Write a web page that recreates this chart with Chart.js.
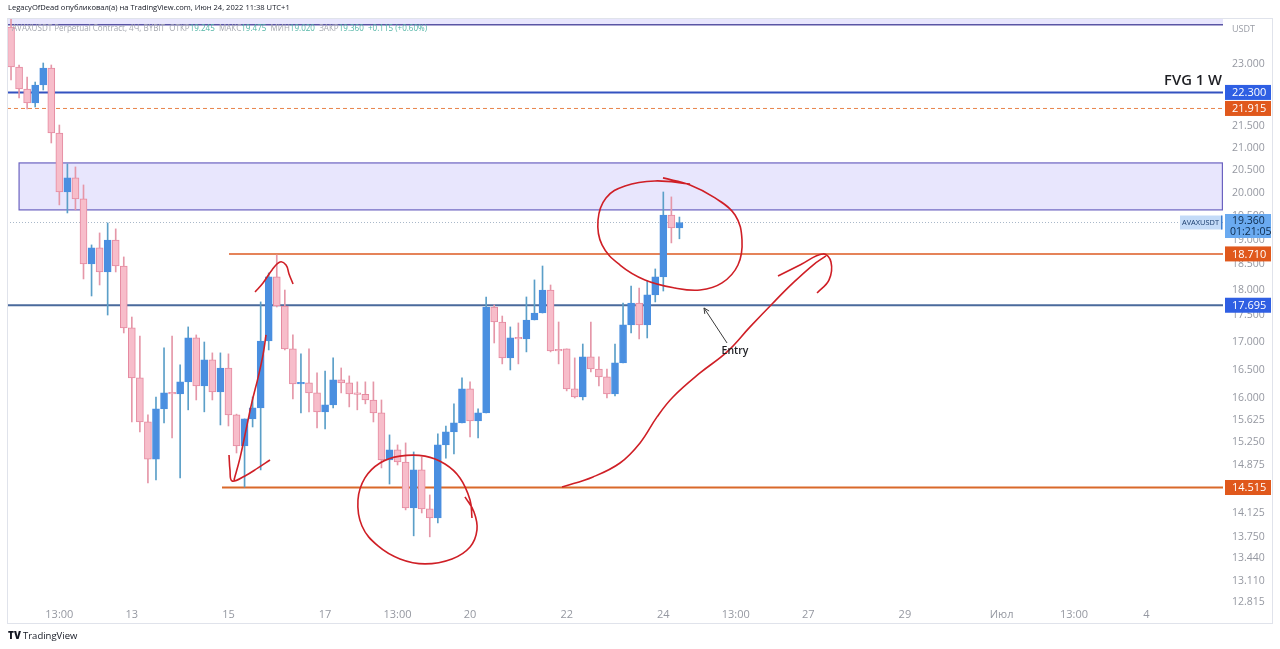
<!DOCTYPE html>
<html>
<head>
<meta charset="utf-8">
<title>AVAXUSDT 4Ч</title>
<script src="https://cdn.jsdelivr.net/npm/chart.js@4.4.1/dist/chart.umd.min.js"></script>
<style>
  html,body{margin:0;padding:0;background:#fff;}
  #chart{display:block;}
</style>
</head>
<body>
<canvas id="chart" width="1280" height="649"></canvas>
<script>
/* candles, 4h */
const opens  = [23.943,22.926,22.384,22.046,22.481,22.901,21.339,20.013,20.322,19.863,18.506,18.833,18.347,18.996,18.466,17.264,16.352,15.587,14.971,15.810,16.087,16.069,16.281,17.077,16.210,16.675,16.104,16.529,15.707,15.186,15.639,15.827,17.021,18.248,17.681,16.875,16.246,16.263,16.087,15.759,15.878,16.316,16.263,16.069,16.060,15.964,15.741,14.955,15.120,14.923,14.197,14.795,14.181,14.042,15.203,15.419,15.570,16.157,15.605,15.741,17.662,17.376,16.711,17.077,17.060,17.414,17.546,17.990,16.856,16.875,16.157,16.016,16.729,16.511,16.369,16.069,16.620,17.320,17.739,17.320,17.894,18.248,19.519,19.245];
const highs  = [24.400,22.975,22.678,22.553,23.025,22.975,21.524,20.633,20.565,20.167,18.894,19.142,19.351,19.226,18.649,17.470,17.114,15.707,16.016,16.893,17.114,16.584,17.283,17.133,17.002,16.802,16.802,16.784,15.720,15.639,16.016,17.759,18.327,18.690,17.990,17.133,16.784,16.875,16.440,16.475,16.711,16.529,16.387,16.281,16.281,16.281,15.964,15.369,15.203,15.236,15.087,15.003,14.398,15.385,15.519,15.896,16.352,16.281,15.810,17.855,17.700,17.489,17.283,17.358,17.855,18.189,18.466,18.089,17.376,16.875,16.711,16.965,17.376,16.729,16.511,16.965,17.739,18.069,18.030,18.169,18.407,20.013,19.906,19.475];
const lows   = [22.604,22.167,21.903,21.950,22.360,21.108,19.734,19.562,19.627,18.208,17.874,18.089,17.508,18.347,17.170,15.587,15.419,14.586,14.635,15.570,15.319,14.667,15.793,15.964,15.759,15.964,15.536,15.519,15.070,14.522,15.502,14.795,16.856,17.662,16.856,15.981,15.741,15.759,15.485,15.468,15.827,16.087,15.844,15.793,15.896,15.587,14.827,14.570,14.875,14.166,13.772,14.119,13.757,13.966,14.987,15.053,15.570,15.336,15.319,15.741,16.984,16.602,16.493,16.602,16.820,17.414,17.546,16.820,16.602,16.122,15.998,15.964,16.458,16.210,15.998,16.034,16.620,17.170,17.058,17.077,17.759,17.971,18.935,19.020];
const closes = [22.926,22.384,22.046,22.481,22.901,21.339,20.013,20.322,19.863,18.506,18.833,18.347,18.996,18.466,17.264,16.352,15.587,14.971,15.810,16.087,16.069,16.281,17.077,16.210,16.675,16.104,16.529,15.707,15.186,15.639,15.827,17.021,18.248,17.681,16.875,16.246,16.263,16.087,15.759,15.878,16.316,16.263,16.069,16.060,15.964,15.741,14.955,15.120,14.923,14.197,14.795,14.181,14.042,15.203,15.419,15.570,16.157,15.605,15.741,17.662,17.376,16.711,17.077,17.060,17.414,17.546,17.990,16.838,16.838,16.157,16.016,16.729,16.511,16.369,16.069,16.620,17.320,17.739,17.320,17.894,18.248,19.519,19.245,19.360];

/* time axis: 151 slots of 4h, labels only where TradingView shows them */
const slotCount = 151;
const timeTickIdx  = [6,15,27,39,48,57,69,81,90,99,111,123,132,141];
const timeTickText = ["13:00","13","15","17","13:00","20","22","24","13:00","27","29","Июл","13:00","4"];

/* price axis */
const priceMin = 12.761, priceMax = 24.179;
const priceTicks = [23,21.5,21,20.5,20,19.5,19,18.5,18,17.5,17,16.5,16,15.625,15.25,14.875,14.125,13.75,13.44,13.11,12.815];

/* horizontal levels drawn by the author */
const levelPrices = [22.300, 21.915, 18.710, 17.695, 14.515];
const levelFrom   = [-0.5, -0.5, 27.07, -0.5, 26.2];
const lastPrice = 19.360;

/* zones */
const topZoneLow = 24.0;
const fvgLow = 19.627, fvgHigh = 20.655, fvgFrom = 1.0;

/* freehand strokes, [slot, price] */
const strokeTopLoop = [[80.96,20.322],[84.32,20.167],[87.42,19.884],[89.91,19.519],[90.77,18.996],[90.27,18.486],[88.29,18.129],[85.56,17.990],[82.45,18.030],[78.72,18.189],[75.62,18.486],[73.39,18.894],[72.89,19.414],[73.88,19.884],[76.24,20.145],[79.96,20.255],[84.32,20.189]];
const strokeArrow = [[68.42,14.522],[72.27,14.683],[75.62,14.907],[78.11,15.236],[80.22,15.673],[82.20,16.016],[85.56,16.440],[88.91,16.820],[91.77,17.283],[94.62,17.739],[97.11,18.129],[99.59,18.486],[101.2,18.669]];
const strokeArrowHead = [[95.24,18.268],[97.97,18.486],[100.83,18.710],[101.82,18.547],[101.58,18.189],[100.09,17.932]];
const strokeLowLoop = [[56.37,14.367],[57.49,14.135],[57.86,13.861],[57.0,13.607],[54.76,13.431],[51.41,13.359],[48.30,13.431],[45.57,13.622],[43.58,13.921],[43.08,14.320],[43.95,14.667],[45.82,14.907],[48.30,15.019],[51.41,15.019],[53.89,14.891],[55.75,14.667],[57.0,14.320],[57.24,14.042]];
const strokeV = [[27.07,15.037],[27.19,14.795],[27.44,14.619],[29.05,14.699],[30.67,14.827],[32.16,14.955]];
const strokeRise = [[27.69,14.635],[28.43,14.987],[29.18,15.452],[29.92,15.930],[30.67,16.352],[31.29,16.765],[31.66,17.133]];
const strokeHook = [[30.30,17.952],[31.29,18.129],[32.41,18.387],[33.40,18.547],[34.15,18.486],[34.52,18.308],[35.02,18.109]];

/* text notes */
const entryText = "Entry", entryAt = [89.90, 16.838], entryTip = [86.05, 17.643], entryTail = [88.91, 16.984];
const fvgText = "FVG 1 W", fvgTextPrice = 22.579;
const headerText = "LegacyOfDead опубликовал(а) на TradingView.com, Июн 24, 2022 11:38 UTC+1";
const legendParts = [["AVAXUSDT Perpetual Contract, 4Ч, BYBIT  ОТКР",0],["19.245",1],["  МАКС",0],["19.475",1],["  МИН",0],["19.020",1],["  ЗАКР",0],["19.360",1],["  +0.115 (+0.60%)",1]];

const BULL = "#4a8fe0", BEAR = "#f7bdca", BULL_WICK = "#5b9fc8", BEAR_WICK = "#e597a8", BEAR_EDGE = "#e58aa0";
const isUp = opens.map((o,i)=>closes[i]>=o);
const FONT = "'Open Sans', 'Noto Sans', sans-serif";

const levelStyle = [
  {c:"#3452c0", w:2,   dash:[],    box:"#2f5fe3"},
  {c:"#e8834a", w:1,   dash:[4,3], box:"#e0581c"},
  {c:"#dc5a22", w:1.5, dash:[],    box:"#e0581c"},
  {c:"#4a6a9c", w:2,   dash:[],    box:"#2f5fe3"},
  {c:"#d9692a", w:2,   dash:[],    box:"#e0581c"}
];

function pts(arr){ return arr.map(p=>({x:p[0], y:p[1]})); }
function stroke(arr){
  return {type:"line", xAxisID:"xd", yAxisID:"y", data:pts(arr), borderColor:"#cf1f26", borderWidth:1.6,
    pointRadius:0, tension:0.4, fill:false, order:1};
}
function fitFont(ctx, text, width, weight){
  ctx.font = `${weight} 10px ${FONT}`;
  return 10*width/ctx.measureText(text).width;
}

const overlay = {
  id:"overlay",
  beforeDatasetsDraw(chart){
    const {ctx, chartArea:a, scales:{x,y}} = chart;
    ctx.save();
    ctx.beginPath(); ctx.rect(a.left, a.top, a.right-a.left, a.bottom-a.top); ctx.clip();
    // top zone
    const zb = y.getPixelForValue(topZoneLow);
    ctx.fillStyle = "rgba(150,140,245,0.22)";
    ctx.fillRect(a.left, a.top, a.right-a.left, zb-a.top);
    ctx.strokeStyle = "#5a55a5"; ctx.lineWidth = 1.5;
    ctx.beginPath(); ctx.moveTo(a.left, zb); ctx.lineTo(a.right, zb); ctx.stroke();
    // FVG box
    const bx = x.getPixelForValue(fvgFrom), bt = y.getPixelForValue(fvgHigh), bb = y.getPixelForValue(fvgLow);
    ctx.fillStyle = "rgba(150,140,245,0.22)";
    ctx.fillRect(bx, bt, a.right-bx, bb-bt);
    ctx.strokeStyle = "#6b62c0"; ctx.lineWidth = 1.2;
    ctx.strokeRect(bx, bt, a.right-bx-0.6, bb-bt);
    // last price dotted line
    const lp = y.getPixelForValue(lastPrice);
    ctx.strokeStyle = "#a9b8c9"; ctx.lineWidth = 1; ctx.setLineDash([1,2]);
    ctx.beginPath(); ctx.moveTo(a.left, lp); ctx.lineTo(a.right, lp); ctx.stroke();
    // levels
    levelPrices.forEach((p,i)=>{
      const s = levelStyle[i], py = y.getPixelForValue(p);
      ctx.strokeStyle = s.c; ctx.lineWidth = s.w; ctx.setLineDash(s.dash);
      ctx.beginPath(); ctx.moveTo(x.getPixelForValue(levelFrom[i]), py); ctx.lineTo(a.right, py); ctx.stroke();
    });
    ctx.restore();
  },
  afterDraw(chart){
    const {ctx, chartArea:a, scales:{x,y}} = chart;
    ctx.save();
    // outer frame
    ctx.strokeStyle = "#e0e3eb"; ctx.lineWidth = 1;
    ctx.strokeRect(7.5, 18.5, 1265, 605);
    // axis price boxes
    ctx.textBaseline = "middle"; ctx.textAlign = "left";
    ctx.font = `11px ${FONT}`;
    levelPrices.forEach((p,i)=>{
      const py = y.getPixelForValue(p);
      ctx.fillStyle = levelStyle[i].box;
      ctx.fillRect(a.right+2, py-7.5, 46, 15);
      ctx.fillStyle = "#fff";
      ctx.fillText(p.toFixed(3), a.right+9, py+0.5);
    });
    const lp = y.getPixelForValue(lastPrice);
    ctx.fillStyle = "#6aaaf0";
    ctx.fillRect(a.right+2, lp-8.5, 46, 24);
    ctx.fillStyle = "#0d2a4a";
    ctx.font = `10.5px ${FONT}`;
    ctx.fillText(lastPrice.toFixed(3), a.right+9, lp-1.5);
    ctx.fillText("01:21:05", a.right+7, lp+9.5);
    ctx.fillStyle = "#c4dbf8";
    ctx.fillRect(a.right-43, lp-7, 42, 14);
    ctx.fillStyle = "#3f7fd0"; ctx.fillRect(a.right-2, lp-7, 1.5, 14);
    ctx.fillStyle = "#1a3d6d";
    const ts = fitFont(ctx, "AVAXUSDT", 37, "400");
    ctx.font = `400 ${ts}px ${FONT}`;
    ctx.fillText("AVAXUSDT", a.right-41, lp+0.5);
    // USDT
    ctx.fillStyle = "#9a9da6"; ctx.font = `9px ${FONT}`;
    ctx.fillText("USDT", a.right+9, 29);
    // FVG label
    const fs = fitFont(ctx, fvgText, 58, "600");
    ctx.font = `600 ${fs}px ${FONT}`; ctx.fillStyle = "#1e1f24"; ctx.textAlign = "right";
    ctx.fillText(fvgText, a.right-1, y.getPixelForValue(fvgTextPrice));
    // Entry note and arrow
    ctx.textAlign = "center"; ctx.font = `600 10.5px ${FONT}`; ctx.fillStyle = "#1e1f24";
    ctx.fillText(entryText, x.getPixelForValue(entryAt[0]), y.getPixelForValue(entryAt[1]));
    const tx = x.getPixelForValue(entryTip[0]), ty = y.getPixelForValue(entryTip[1]);
    const sx = x.getPixelForValue(entryTail[0]), sy = y.getPixelForValue(entryTail[1]);
    const ang = Math.atan2(ty-sy, tx-sx);
    ctx.strokeStyle = "#3a3a3a"; ctx.lineWidth = 1;
    ctx.beginPath(); ctx.moveTo(sx, sy); ctx.lineTo(tx, ty);
    ctx.moveTo(tx - 6*Math.cos(ang-0.45), ty - 6*Math.sin(ang-0.45)); ctx.lineTo(tx, ty);
    ctx.lineTo(tx - 6*Math.cos(ang+0.45), ty - 6*Math.sin(ang+0.45));
    ctx.stroke();
    // header
    ctx.textAlign = "left";
    const hs = fitFont(ctx, headerText, 282, "400");
    ctx.font = `400 ${hs}px ${FONT}`; ctx.fillStyle = "#131722";
    ctx.fillText(headerText, 8, 8);
    // legend line
    const full = legendParts.map(p=>p[0]).join("");
    const ls = fitFont(ctx, full, 416, "400");
    ctx.font = `400 ${ls}px ${FONT}`;
    let lx = 12;
    legendParts.forEach(p=>{
      ctx.fillStyle = p[1] ? "#52b5a6" : "#a5a8b0";
      ctx.fillText(p[0], lx, 29);
      lx += ctx.measureText(p[0]).width;
    });
    // logo
    ctx.fillStyle = "#131722";
    ctx.font = `900 10px ${FONT}`;
    ctx.fillText("TV", 8, 636);
    ctx.font = `400 9.5px ${FONT}`;
    ctx.fillText("TradingView", 23, 636);
    ctx.restore();
  }
};

new Chart(document.getElementById("chart"), {
  type:"bar",
  data:{
    labels:Array.from({length:slotCount}, (_,i)=>String(i)),
    datasets:[
      {data:lows.map((l,i)=>[l, highs[i]]), backgroundColor:isUp.map(u=>u?BULL_WICK:BEAR_WICK),
       barThickness:1, grouped:false, order:3},
      {data:opens.map((o,i)=>[o, closes[i]]), backgroundColor:isUp.map(u=>u?BULL:BEAR),
       borderColor:isUp.map(u=>u?BULL:BEAR_EDGE), borderWidth:1, borderSkipped:false,
       barThickness:7, minBarLength:1.5, grouped:false, order:2},
      stroke(strokeTopLoop), stroke(strokeArrow), stroke(strokeArrowHead),
      stroke(strokeLowLoop), stroke(strokeV), stroke(strokeRise), stroke(strokeHook)
    ]
  },
  options:{
    responsive:false,
    animation:false,
    layout:{padding:{left:7, top:18, right:0, bottom:0}},
    plugins:{legend:{display:false}, tooltip:{enabled:false}},
    scales:{
      x:{
        type:"category", offset:true,
        grid:{display:false, drawTicks:false}, border:{display:false},
        ticks:{autoSkip:false, maxRotation:0, minRotation:0, padding:2, color:"#9598a1",
          font:{size:11, family:FONT},
          callback:(v,i)=>{ const k = timeTickIdx.indexOf(i); return k<0 ? "" : timeTickText[k]; }},
        afterFit:s=>{ s.height = 43; }
      },
      xd:{
        type:"linear", position:"bottom", offset:false, min:-0.5, max:slotCount-0.5,
        grid:{display:false, drawTicks:false}, border:{display:false},
        ticks:{display:false},
        afterFit:s=>{ s.height = 0; }
      },
      y:{
        type:"logarithmic", position:"right", min:priceMin, max:priceMax,
        grid:{display:false, drawTicks:false}, border:{display:false},
        afterBuildTicks:s=>{ s.ticks = priceTicks.map(v=>({value:v})); },
        ticks:{autoSkip:false, padding:9, color:"#9598a1", font:{size:10.5, family:FONT},
          callback:v=>Number(v).toFixed(3)},
        afterFit:s=>{ s.width = 57; }
      }
    }
  },
  plugins:[overlay]
});
</script>
</body>
</html>
